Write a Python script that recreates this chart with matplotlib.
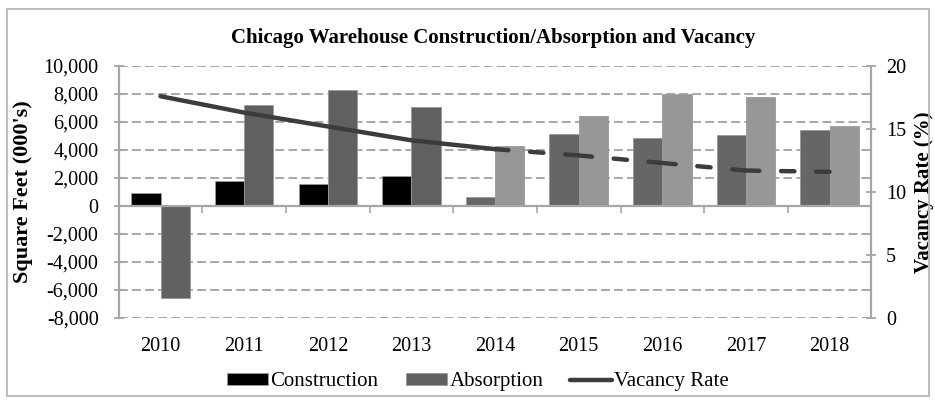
import numpy as np
import matplotlib
matplotlib.use("Agg")
import matplotlib.pyplot as plt
from matplotlib.patches import Rectangle

plt.rcParams['font.family'] = ['Liberation Serif', 'DejaVu Serif']

years = ['2010', '2011', '2012', '2013', '2014', '2015', '2016', '2017', '2018']
construction = [950, 1800, 1550, 2150, 650, 5150, 4850, 5100, 5450]
absorption = [-6600, 7200, 8300, 7050, 4300, 6400, 8000, 7800, 5700]
vacancy = [17.6, 16.3, 15.2, 14.1, 13.4, 12.9, 12.3, 11.7, 11.6]
n_actual = 5   # 2010-2014 solid / dark bars, forecast after

cons_colors = ['#000000'] * 4 + ['#666666'] * 5
abs_colors = ['#606060'] * 4 + ['#979797'] * 5
grid_c = '#a6a6a6'

fig = plt.figure(figsize=(9.35, 4.05), dpi=100)
ax = fig.add_axes([0.127, 0.215, 0.805, 0.622])

x = np.arange(len(years))
w = 0.35
ax.bar(x - w / 2, construction, w, color=cons_colors, edgecolor='#9a9a9a',
       linewidth=0.6, label='Construction')
ax.bar(x + w / 2, absorption, w, color=abs_colors, edgecolor='#9a9a9a',
       linewidth=0.6, label='Absorption')

ax.set_xlim(-0.5, len(years) - 0.5)
ax.set_ylim(-8000, 10000)
ax.set_yticks(np.arange(-8000, 10001, 2000))
ax.set_yticklabels(['{:,}'.format(v) for v in range(-8000, 10001, 2000)])
ax.set_axisbelow(True)
ax.yaxis.grid(True, color=grid_c, linestyle=(0, (4.5, 2.2)), linewidth=1.4)
ax.axhline(0, color=grid_c, linewidth=1.6, zorder=1.5)

ax.set_xticks(x)
ax.set_xticklabels(years)
ax.tick_params(axis='x', length=0, pad=14, labelsize=14.5)
ax.tick_params(axis='y', direction='inout', length=7, color=grid_c, width=1.3,
               labelsize=14.5, pad=11)
for s in ['top', 'bottom', 'right']:
    ax.spines[s].set_visible(False)
ax.spines['left'].set_color(grid_c)
ax.spines['left'].set_linewidth(1.6)
ax.set_ylabel("Square Feet (000's)", fontsize=16, fontweight='bold')
ax.yaxis.set_label_coords((33 - 119) / 752, 0.5)

# small tick marks on the zero line between categories
zx = ax.secondary_xaxis(8000 / 18000)
zx.set_xticks(np.arange(0.5, len(years) - 1, 1.0))
zx.set_xticklabels([])
zx.tick_params(length=5, color=grid_c, width=1.2)
zx.spines['bottom'].set_visible(False)

ax2 = ax.twinx()
ax2.set_ylim(0, 20)
ax2.set_yticks([0, 5, 10, 15, 20])
ax2.tick_params(axis='y', direction='inout', length=7, color=grid_c, width=1.3,
                labelsize=14.5, pad=7)
for s in ['top', 'bottom', 'left']:
    ax2.spines[s].set_visible(False)
ax2.spines['right'].set_color(grid_c)
ax2.spines['right'].set_linewidth(1.6)
ax2.set_ylabel('Vacancy Rate (%)', fontsize=15, fontweight='bold', rotation=90)
ax2.yaxis.set_label_coords((914 - 119) / 752, 0.5)

line_c = '#3c3c3c'
vline, = ax2.plot(x[:n_actual], vacancy[:n_actual], color=line_c, linewidth=3.2,
                  solid_capstyle='round', label='Vacancy Rate')
for i in range(n_actual - 1, len(years) - 1):
    ax2.plot(x[i:i + 2], vacancy[i:i + 2], color=line_c, linewidth=3.2,
             linestyle=(0, (3.0, 4.9, 3.0, 4.9, 3.0, 4.9)),
             dash_capstyle='round')

h1, l1 = ax.get_legend_handles_labels()
fig.legend(h1 + [vline], l1 + ['Vacancy Rate'], loc='center',
           bbox_to_anchor=(0.511, 0.057), ncol=3, frameon=False, fontsize=15,
           handlelength=2.0, handleheight=0.5, handletextpad=0.1,
           columnspacing=1.3)

fig.text(0.528, 0.905, 'Chicago Warehouse Construction/Absorption and Vacancy',
         ha='center', va='center', fontsize=15, fontweight='bold')

fig.patches.append(Rectangle((0.008, 0.022), 0.986, 0.956, transform=fig.transFigure,
                             fill=False, edgecolor='#b0b0b0', linewidth=1.2))

fig.savefig('out.png', dpi=100)
